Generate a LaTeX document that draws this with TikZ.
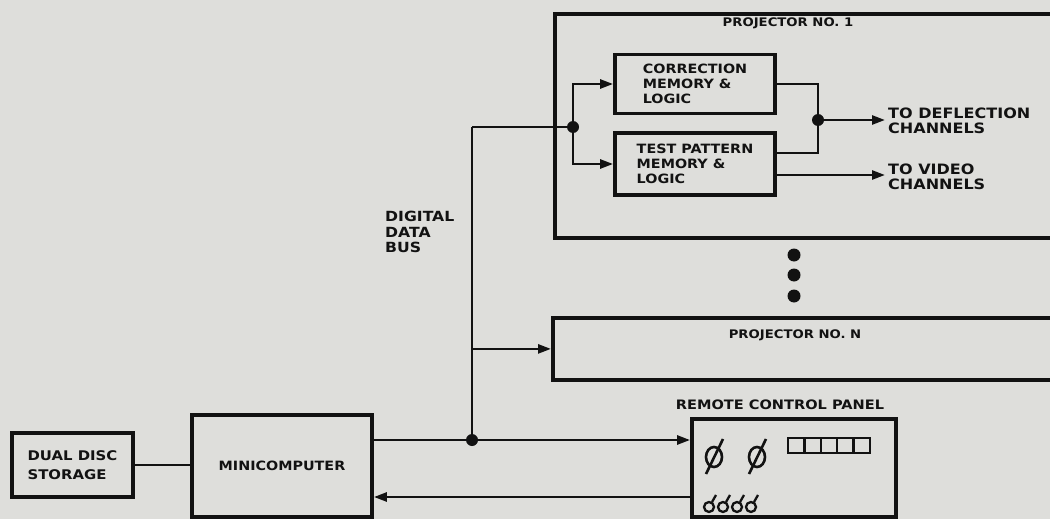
\documentclass[tikz,border=0pt]{standalone}
\usepackage{fontspec}
\newfontfamily\diagfont{DejaVu Sans}[FakeStretch=1.12]
\usetikzlibrary{arrows.meta,positioning,calc}
\definecolor{paper}{RGB}{222,222,219}
\definecolor{ink}{RGB}{18,18,18}

\begin{document}
\begin{tikzpicture}[x=1pt, y=-1pt,
    blk/.style={draw=ink, text=ink, line width=3.8pt, inner sep=0pt, align=left,
        font=\diagfont\bfseries\fontsize{12.8}{15}\selectfont},
    lbl/.style={text=ink, inner sep=0pt, align=left,
        font=\diagfont\bfseries\fontsize{14.3}{15}\selectfont},
    wire/.style={ink, line width=2.6pt},
    arr/.style={wire, -{Triangle[length=13pt,width=9pt]}},
    dot/.style={circle, fill=ink, inner sep=0pt, minimum size=12pt}]
    \useasboundingbox (0,0) rectangle (1050,519);
    \clip (0,0) rectangle (1050,519);
    \fill[paper] (0,0) rectangle (1050,519);

    % Projector No. 1
    \node[blk, minimum width=560pt, minimum height=224pt, anchor=north west] (proj1) at (553,12) {};
    \node[lbl, font=\diagfont\bfseries\fontsize{11.8}{14}\selectfont] (proj1name) at (788,23) {PROJECTOR NO. 1};
    \node[blk, minimum width=160pt, minimum height=59pt] (corr) at (695,84) {CORRECTION\\MEMORY \&\\LOGIC};
    \node[blk, minimum width=160pt, minimum height=62pt] (test) at (695,164) {TEST PATTERN\\MEMORY \&\\LOGIC};
    \node[dot] (split) at (573,127) {};
    \node[dot] (merge) at (818,120) {};
    \node[lbl, anchor=west] (defl) at (888,121) {TO DEFLECTION\\CHANNELS};
    \node[lbl, anchor=west] (video) at (888,177) {TO VIDEO\\CHANNELS};

    % Projector No. N
    \node[blk, minimum width=560pt, minimum height=62pt, anchor=north west] (projN) at (551,316) {};
    \node[lbl, font=\diagfont\bfseries\fontsize{11.8}{14}\selectfont] (projNname) at (795,335) {PROJECTOR NO. N};
    \foreach \yy in {255,275,296}
        \fill[ink] (794,\yy) circle (6.5pt);

    % bus
    \coordinate (bustop) at (472,127);
    \node[dot] (busjn) at (472,440) {};
    \node[lbl, anchor=north west, font=\diagfont\bfseries\fontsize{14}{15.5}\selectfont] (buslbl) at (385,211) {DIGITAL\\DATA\\BUS};

    % minicomputer side
    \node[blk, minimum width=121pt, minimum height=64pt, font=\diagfont\bfseries\fontsize{13.3}{19}\selectfont] (disc) at (72.5,465) {DUAL DISC\\STORAGE};
    \node[blk, minimum width=180pt, minimum height=102pt] (mini) at (282,466) {MINICOMPUTER};
    \node[blk, minimum width=204pt, minimum height=98pt] (panel) at (794,468) {};
    \node[lbl, font=\diagfont\bfseries\fontsize{13}{14}\selectfont] (panelname) at (780,405) {REMOTE CONTROL PANEL};

    % connectors
    \draw[wire] (bustop) -- (busjn.center);
    \draw[wire] (bustop) -- (split.center);
    \draw[arr] (split.center) |- (corr.west);
    \draw[arr] (split.center) |- (test.west);
    \draw[wire] (corr.east) -| (merge.center) |- ($(test.east)+(0,-11)$);
    \draw[arr, shorten >=3pt] (merge.center) -- (merge.center -| defl.west);
    \coordinate (vidout) at ($(test.east)+(0,11)$);
    \draw[arr, shorten >=3pt] (vidout) -- (vidout -| video.west);
    \draw[arr] (bustop |- projN.west) -- (projN.west);
    \draw[wire] (disc.east) -- (disc.east -| mini.west);
    \draw[arr] (mini.east |- busjn) -- (busjn -| panel.west);
    \path (panel.west) ++(0,29) coordinate (ret);
    \draw[arr] (ret) -- (ret -| mini.east);

    % panel controls
    \foreach \kx in {714,757} {
        \draw[ink, line width=2.6pt] (\kx,457) ellipse (8pt and 10pt);
        \draw[ink, line width=2.6pt] (\kx+9,439) -- (\kx-8,474);
    }
    \foreach \i in {0,...,4}
        \draw[ink, line width=2.4pt] (788+\i*16.4,438) rectangle ++(16.4,15);
    \foreach \tx in {709,723,737,751} {
        \draw[ink, line width=2.3pt] (\tx,507) circle (5pt);
        \draw[ink, line width=2.3pt] (\tx+3,502) -- (\tx+7,495);
    }
\end{tikzpicture}
\end{document}
